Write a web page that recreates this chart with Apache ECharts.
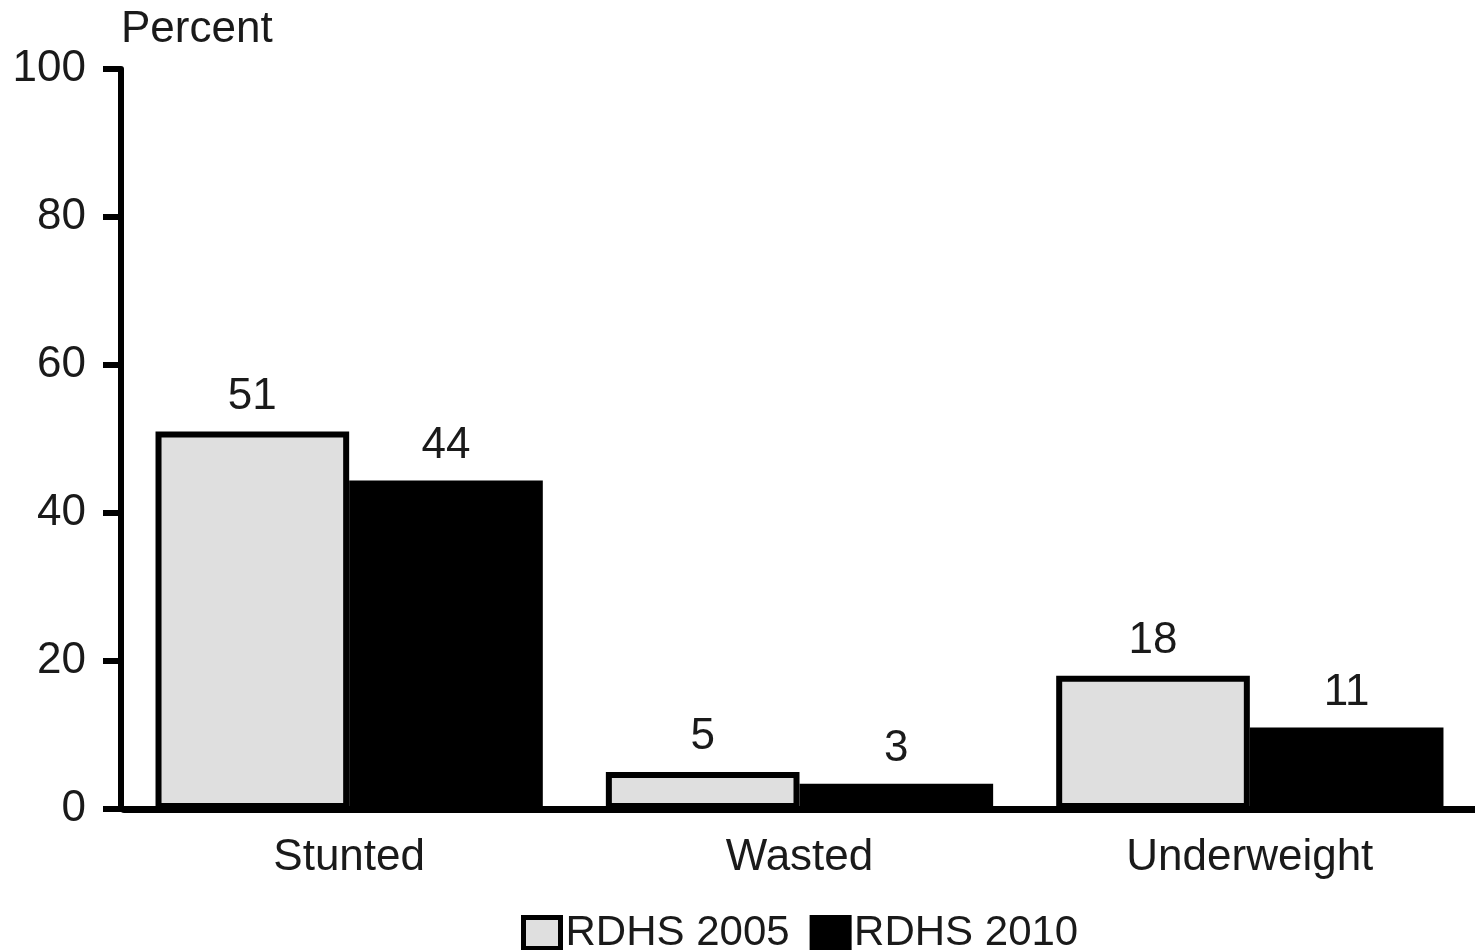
<!DOCTYPE html>
<html>
<head>
<meta charset="utf-8">
<script src="https://cdn.jsdelivr.net/npm/echarts@6/dist/echarts.min.js"></script>
<style>html,body{margin:0;padding:0;background:#fff}#c{width:1475px;height:950px}</style>
</head>
<body>
<div id="c"></div>
<script>
const categories = ['Stunted', 'Wasted', 'Underweight'];
const rdhs2005 = [51, 5, 18];
const rdhs2010 = [44.4, 3.4, 11];
const yTicks = [0, 20, 40, 60, 80, 100];

const chart = echarts.init(document.getElementById('c'));
const font = 'Liberation Sans, Arial, sans-serif';
const txt = '#1a1a1a';
const lbl = { show: true, position: 'top', distance: 13, fontSize: 44, color: txt, fontFamily: font,
  formatter: p => String(Math.round(p.value)) };
chart.setOption({
  animation: false,
  textStyle: { fontFamily: font },
  grid: { left: 124, right: -5, top: 69, bottom: 141 },
  legend: {
    left: 516, top: 907,
    icon: 'rect',
    itemWidth: 37, itemHeight: 31, itemGap: 20,
    textStyle: { fontSize: 42, color: txt, fontFamily: font, padding: [0, 0, 0, 0] },
    data: [
      { name: 'RDHS 2005', itemStyle: { color: '#dfdfdf', borderColor: '#000', borderWidth: 5 } },
      { name: 'RDHS 2010', itemStyle: { color: '#000', borderColor: '#000', borderWidth: 5 } }
    ]
  },
  xAxis: {
    type: 'category',
    data: categories,
    axisLine: { lineStyle: { color: '#000', width: 7 } },
    axisTick: { show: false },
    axisLabel: { fontSize: 44, color: txt, margin: 27, fontFamily: font }
  },
  yAxis: {
    type: 'value',
    min: 0, max: 100, interval: 20,
    offset: 3,
    name: 'Percent',
    nameLocation: 'end',
    nameGap: 17,
    nameTextStyle: { fontSize: 44, color: txt, align: 'left', verticalAlign: 'bottom', padding: [0, 0, 0, 0], fontFamily: font },
    splitLine: { show: false },
    axisLine: { show: true, lineStyle: { color: '#000', width: 6 } },
    axisTick: { show: true, length: 18, lineStyle: { color: '#000', width: 6 } },
    axisLabel: { fontSize: 44, color: txt, margin: 35, fontFamily: font,
      formatter: v => yTicks.includes(v) ? String(v) : '' }
  },
  series: [
    {
      name: 'RDHS 2005', type: 'bar', data: rdhs2005,
      barGap: '0%', barCategoryGap: '14%',
      itemStyle: { color: '#dfdfdf', borderColor: '#000', borderWidth: 6 },
      label: lbl
    },
    {
      name: 'RDHS 2010', type: 'bar', data: rdhs2010,
      itemStyle: { color: '#000' },
      label: lbl
    }
  ]
});
</script>
</body>
</html>
